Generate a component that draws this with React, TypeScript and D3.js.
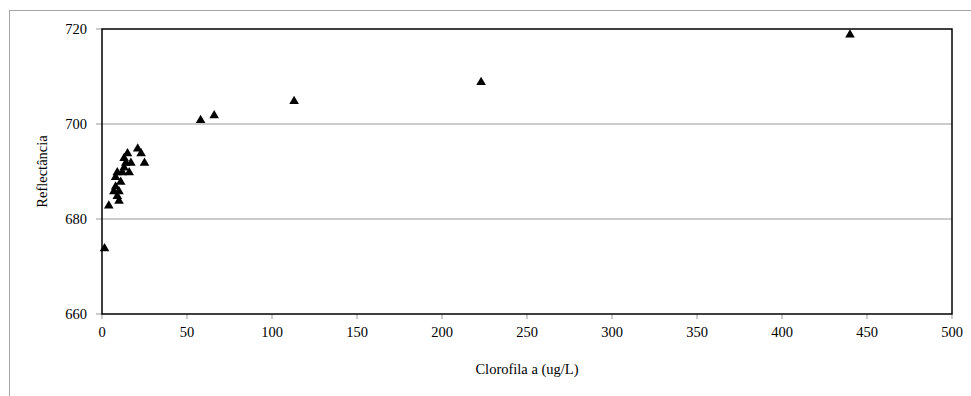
import React from "react";
import { scaleLinear, symbol, symbolTriangle } from "d3";

// Clorofila a (ug/L) vs Reflectância (nm)
const clorofila = [
  1.5, 4, 7, 8, 8, 9, 9, 10, 10, 11, 12, 13, 13, 14, 15, 16, 17, 21, 23, 25,
  58, 66, 113, 223, 440,
];
const reflectancia = [
  674, 683, 686, 687, 689, 690, 685, 684, 686, 688, 690, 693, 691, 692, 694, 690, 692, 695, 694, 692,
  701, 702, 705, 709, 719,
];
const xTicks = [0, 50, 100, 150, 200, 250, 300, 350, 400, 450, 500];
const yTicks = [660, 680, 700, 720];

const font = "'Liberation Serif', 'Times New Roman', serif";

function App() {
  const W = 971;
  const H = 396;
  const left = 102;
  const right = 952;
  const top = 29;
  const bottom = 314;

  const x = scaleLinear().domain([0, 500]).range([left, right]);
  const y = scaleLinear().domain([660, 720]).range([bottom, top]);
  const tri = symbol().type(symbolTriangle).size(40)();

  return (
    <svg
      width={W}
      height={H}
      style={{ position: "absolute", left: 0, top: 0, background: "#fff" }}
    >
      <rect x={9.5} y={10.5} width={W} height={H} fill="none" stroke="#a6a6a6" />
      {yTicks.map((t) => (
        <g key={`y-${t}`}>
          {t !== 660 && t !== 720 && (
            <line x1={left} x2={right} y1={y(t)} y2={y(t)} stroke="#999" strokeWidth={1} />
          )}
          <line x1={left - 6} x2={left} y1={y(t)} y2={y(t)} stroke="#999" />
          <text
            x={left - 15}
            y={y(t)}
            dy="0.35em"
            textAnchor="end"
            fontFamily={font}
            fontSize={14.5}
          >
            {t}
          </text>
        </g>
      ))}
      {xTicks.map((t) => (
        <g key={`x-${t}`}>
          <line x1={x(t)} x2={x(t)} y1={bottom} y2={bottom + 5} stroke="#999" />
          <text
            x={x(t)}
            y={bottom + 23}
            textAnchor="middle"
            fontFamily={font}
            fontSize={14.5}
          >
            {t}
          </text>
        </g>
      ))}
      <rect
        x={left}
        y={top}
        width={right - left}
        height={bottom - top}
        fill="none"
        stroke="#000"
        strokeWidth={1.5}
      />
      {clorofila.map((c, i) => (
        <path
          key={i}
          d={tri}
          transform={`translate(${x(c)},${y(reflectancia[i]) + 1})`}
          fill="#000"
        />
      ))}
      <text
        x={(left + right) / 2}
        y={374}
        textAnchor="middle"
        fontFamily={font}
        fontSize={14.5}
      >
        Clorofila a (ug/L)
      </text>
      <text
        transform={`translate(47,${(top + bottom) / 2}) rotate(-90)`}
        textAnchor="middle"
        fontFamily={font}
        fontSize={14.5}
      >
        Reflectância
      </text>
    </svg>
  );
}

export default App;
